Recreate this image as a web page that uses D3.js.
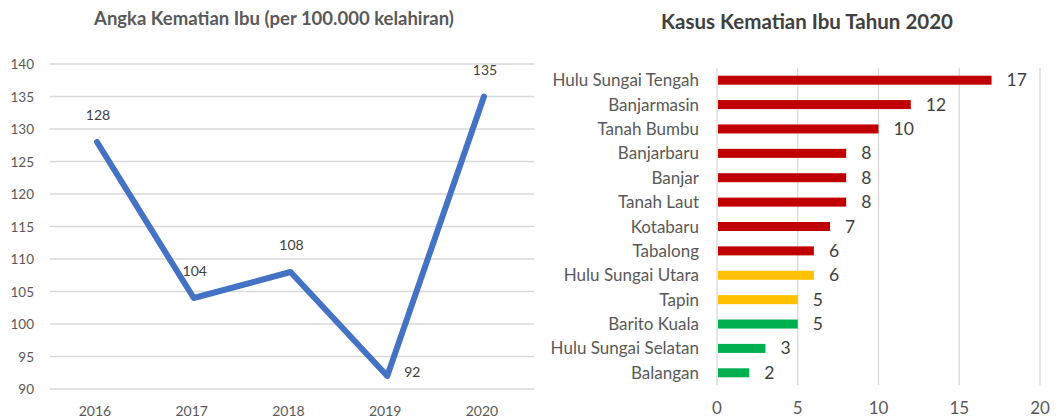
<!DOCTYPE html>
<html><head><meta charset="utf-8">
<script src="https://cdn.jsdelivr.net/npm/d3@7"></script>
<style>
body{margin:0;background:#fff;}
text{font-family:Lato,"Open Sans",sans-serif;}
</style></head>
<body><svg id="c" width="1057" height="418"></svg>
<script>
// Left chart data
const years = ["2016","2017","2018","2019","2020"];
const rates = [128,104,108,92,135];
const rateLabelPos = ["above","above","above","right","above"];
const rateTicks = [90,95,100,105,110,115,120,125,130,135,140];

// Right chart data
const districts = ["Hulu Sungai Tengah","Banjarmasin","Tanah Bumbu","Banjarbaru","Banjar","Tanah Laut","Kotabaru","Tabalong","Hulu Sungai Utara","Tapin","Barito Kuala","Hulu Sungai Selatan","Balangan"];
const cases = [17,12,10,8,8,8,7,6,6,5,5,3,2];
const caseGroup = ["high","high","high","high","high","high","high","high","mid","mid","low","low","low"];
const caseTicks = [0,5,10,15,20];

const svg = d3.select("#c");
const grey = "#595959", grid = "#d9d9d9";

// ---------- Left: line chart ----------
const x = d3.scalePoint().domain(years).range([97, 484]);
const y = d3.scaleLinear().domain([90,140]).range([389,64]);
const L = svg.append("g");
L.append("text").attr("x",274).attr("y",25).attr("text-anchor","middle")
 .attr("font-size",18.5).attr("font-weight","bold").attr("fill",grey)
 .text("Angka Kematian Ibu (per 100.000 kelahiran)");
L.append("g").selectAll("line").data(rateTicks).join("line")
 .attr("x1",50).attr("x2",534).attr("y1",d=>y(d)).attr("y2",d=>y(d))
 .attr("stroke",grid).attr("stroke-width",1.3);
L.append("g").selectAll("text").data(rateTicks).join("text")
 .attr("x",34).attr("y",d=>y(d)+5).attr("text-anchor","end")
 .attr("font-size",13.5).attr("fill",grey).text(d=>d);
L.append("g").selectAll("text").data(years).join("text")
 .attr("x",d=>x(d)-2).attr("y",416).attr("text-anchor","middle")
 .attr("font-size",14).attr("fill",grey).text(d=>d);
const line = d3.line().x((d,i)=>x(years[i])).y(d=>y(d));
L.append("path").datum(rates).attr("d",line).attr("fill","none")
 .attr("stroke","#4472C4").attr("stroke-width",6)
 .attr("stroke-linejoin","round").attr("stroke-linecap","round");
L.append("g").selectAll("text").data(rates).join("text")
 .attr("x",(d,i)=>rateLabelPos[i]==="right" ? x(years[i])+25 : x(years[i])+1)
 .attr("y",(d,i)=>rateLabelPos[i]==="right" ? y(d)+1 : y(d)-22)
 .attr("text-anchor","middle").attr("font-size",14).attr("fill","#404040").text(d=>d);

// ---------- Right: bar chart ----------
const bx = d3.scaleLinear().domain([0,20]).range([717,1040]);
const by = d3.scaleBand().domain(districts).range([68,385]).paddingInner(0.63).paddingOuter(0.315);
const colors = {high:"#C00000", mid:"#FFC000", low:"#00B050"};
const R = svg.append("g");
R.append("text").attr("x",807).attr("y",29).attr("text-anchor","middle")
 .attr("font-size",20.5).attr("font-weight","bold").attr("fill","#404040")
 .text("Kasus Kematian Ibu Tahun 2020");
R.append("g").selectAll("line").data(caseTicks).join("line")
 .attr("x1",d=>bx(d)).attr("x2",d=>bx(d)).attr("y1",68).attr("y2",385)
 .attr("stroke",grid).attr("stroke-width",1.3);
R.append("g").selectAll("text").data(caseTicks).join("text")
 .attr("x",d=>bx(d)).attr("y",414).attr("text-anchor","middle")
 .attr("font-size",17).attr("fill",grey).text(d=>d);
R.append("g").selectAll("rect").data(cases).join("rect")
 .attr("x",bx(0)+1).attr("y",(d,i)=>by(districts[i]))
 .attr("width",d=>bx(d)-bx(0)-1).attr("height",by.bandwidth())
 .attr("fill",(d,i)=>colors[caseGroup[i]]);
R.append("g").selectAll("text").data(districts).join("text")
 .attr("x",699).attr("y",d=>by(d)+by.bandwidth()/2+6).attr("text-anchor","end")
 .attr("font-size",17).attr("fill",grey).text(d=>d);
R.append("g").selectAll("text").data(cases).join("text")
 .attr("x",d=>bx(d)+15).attr("y",(d,i)=>by(districts[i])+by.bandwidth()/2+6)
 .attr("font-size",17.5).attr("fill","#404040").text(d=>d);
</script></body></html>
